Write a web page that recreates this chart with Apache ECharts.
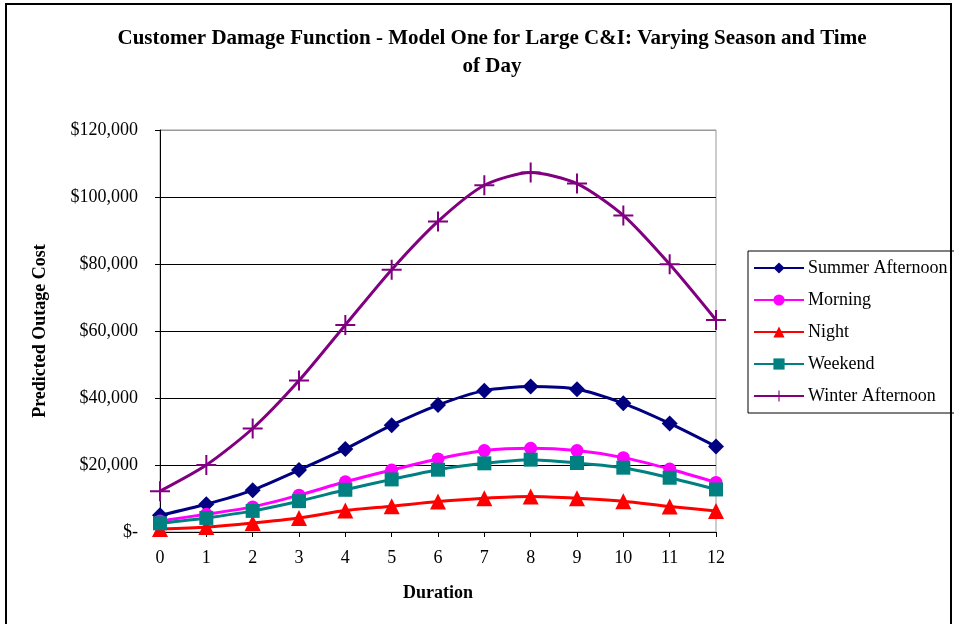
<!DOCTYPE html>
<html><head><meta charset="utf-8">
<script src="https://cdn.jsdelivr.net/npm/echarts@6/dist/echarts.min.js"></script>
<style>html,body{margin:0;padding:0;background:#fff}#c{width:954px;height:624px}</style>
</head><body><div id="c"></div>
<script>
var durations = ['0','1','2','3','4','5','6','7','8','9','10','11','12'];
var summerAfternoon = [5000, 8300, 12500, 18500, 24800, 31900, 37900, 42200, 43400, 42600, 38400, 32400, 25500];
var morning = [3300, 5300, 7500, 11000, 15000, 18500, 21800, 24300, 25000, 24300, 22200, 18800, 14800];
var night = [900, 1500, 2700, 4200, 6400, 7700, 9100, 10100, 10600, 10100, 9200, 7600, 6300];
var weekend = [2600, 4200, 6300, 9200, 12600, 15700, 18600, 20500, 21600, 20600, 19200, 16200, 12700];
var winterAfternoon = [12200, 20000, 30900, 45200, 61800, 78300, 92700, 103500, 107300, 104000, 94500, 79900, 63300];
var yTicks = [0, 20000, 40000, 60000, 80000, 100000, 120000];

var FONT = '"Liberation Serif", "Times New Roman", serif';
var plus = 'path://M9,0H11V9H20V11H11V20H9V11H0V9H9Z';
function mk(name, data, color, symbol, size) {
  return {
    name: name, type: 'line', data: data, smooth: 0.25,
    symbol: symbol, symbolSize: size, showSymbol: true,
    lineStyle: {color: color, width: 3},
    itemStyle: {color: color},
    emphasis: {disabled: true}, z: 3
  };
}
var chart = echarts.init(document.getElementById('c'), null, {renderer: 'canvas'});
chart.setOption({
  animation: false,
  backgroundColor: '#fff',
  textStyle: {fontFamily: FONT},
  title: {
    text: 'Customer Damage Function - Model One for Large C&I: Varying Season and Time\nof Day',
    left: 487, top: 20, textAlign: 'center',
    textStyle: {fontFamily: FONT, fontWeight: 'bold', fontSize: 21, lineHeight: 28, color: '#000'}
  },
  legend: {
    orient: 'vertical', left: 748, top: 251,
    itemWidth: 50, itemHeight: 14, itemGap: 14,
    padding: [8, 8, 8, 5],
    borderColor: '#000', borderWidth: 1, backgroundColor: '#fff',
    textStyle: {fontFamily: FONT, fontSize: 18, color: '#000', padding: [0, 0, 0, -1]},
    data: ['Summer Afternoon', 'Morning', 'Night', 'Weekend', 'Winter Afternoon']
  },
  grid: {left: 160, top: 130, width: 556, height: 402, show: true, borderColor: '#999', borderWidth: 1, backgroundColor: 'transparent'},
  xAxis: {
    type: 'category', data: durations, boundaryGap: false,
    name: 'Duration', nameLocation: 'middle', nameGap: 52,
    nameTextStyle: {fontFamily: FONT, fontWeight: 'bold', fontSize: 18, color: '#000'},
    axisLine: {lineStyle: {color: '#000', width: 1}},
    axisTick: {show: true, inside: false, length: 5, lineStyle: {color: '#000'}},
    axisLabel: {fontFamily: FONT, fontSize: 18, color: '#000', margin: 17},
    splitLine: {show: false}
  },
  yAxis: {
    type: 'value', min: yTicks[0], max: yTicks[yTicks.length - 1], interval: 20000,
    name: 'Predicted Outage Cost', nameLocation: 'middle', nameGap: 111, nameRotate: 90,
    nameTextStyle: {fontFamily: FONT, fontWeight: 'bold', fontSize: 18, color: '#000'},
    axisLine: {show: true, lineStyle: {color: '#000', width: 1}},
    axisTick: {show: true, inside: false, length: 5, lineStyle: {color: '#000'}},
    axisLabel: {
      fontFamily: FONT, fontSize: 18, color: '#000', margin: 22,
      formatter: function (v) { return v === 0 ? '$-' : '$' + v.toLocaleString('en-US'); }
    },
    splitLine: {show: true, lineStyle: {color: ['#000', '#000', '#000', '#000', '#000', '#000', '#999'], width: 1}}
  },
  graphic: [{
    type: 'rect', shape: {x: 6, y: 4, width: 945, height: 700},
    style: {fill: 'none', stroke: '#000', lineWidth: 2}, silent: true, z: 100
  }],
  series: [
    mk('Summer Afternoon', summerAfternoon, '#000080', 'diamond', 16),
    mk('Morning', morning, '#FF00FF', 'circle', 13),
    mk('Night', night, '#FF0000', 'triangle', 16),
    mk('Weekend', weekend, '#008080', 'rect', 14),
    mk('Winter Afternoon', winterAfternoon, '#800080', plus, 20)
  ]
});
</script></body></html>
